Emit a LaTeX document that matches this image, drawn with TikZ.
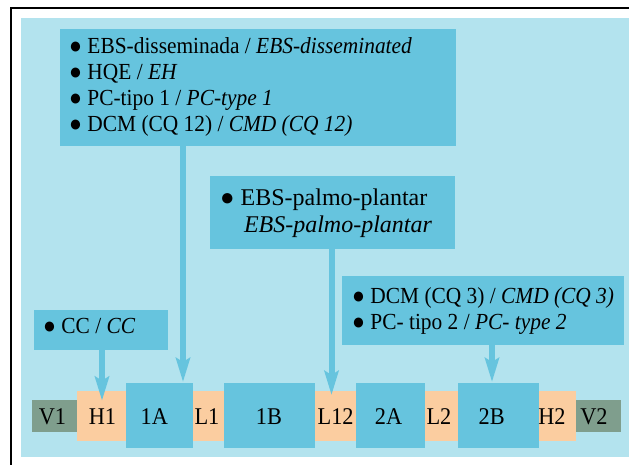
\documentclass[tikz,border=0pt]{standalone}
\usepackage{fontspec}
\setmainfont[FakeStretch=0.93]{Liberation Serif}
\newfontfamily\plainserif{Liberation Serif}
\usetikzlibrary{arrows.meta}
\definecolor{bgblue}{RGB}{179,227,238}
\definecolor{boxblue}{RGB}{102,196,222}
\definecolor{peach}{RGB}{251,205,160}
\definecolor{sage}{RGB}{127,158,141}
\begin{document}
\begin{tikzpicture}[x=1pt,y=-1pt,
  panel/.style={fill=boxblue, inner sep=0pt, outer sep=0pt, anchor=north west},
  segB/.style={fill=boxblue, inner sep=0pt, outer sep=0pt, anchor=north west},
  segO/.style={fill=peach, inner sep=0pt, outer sep=0pt, anchor=north west},
  segG/.style={fill=sage, inner sep=0pt, outer sep=0pt, anchor=north west},
  txt/.style={inner sep=0pt, anchor=base west, font=\fontsize{23}{26}\selectfont},
  bigtxt/.style={inner sep=0pt, anchor=base west, font=\plainserif\fontsize{24}{28}\selectfont},
  lab/.style={inner sep=0pt, anchor=base, font=\fontsize{24}{26}\selectfont},
  arr/.style={draw=boxblue, line width=6pt, -{Stealth[length=24pt,width=14pt,inset=4pt]}}
]
\useasboundingbox (0,0) rectangle (629,464);
\clip (0,0) rectangle (629,464);
\draw[line width=2pt] (11,7.7) rectangle (680,520);
\fill[bgblue] (21,17.5) rectangle (660,456.7);

% panels
\node[panel, minimum width=396pt, minimum height=117pt] (b1) at (60,29) {};
\node[panel, minimum width=244.5pt, minimum height=73pt] (b2) at (210,176) {};
\node[panel, minimum width=282pt, minimum height=69pt] (b3) at (342,276) {};
\node[panel, minimum width=134pt, minimum height=40pt] (b4) at (34,310) {};

% panel texts
\node[txt] (l11) at (69,53) {● EBS-disseminada / \textit{EBS-disseminated}};
\node[txt] (l12) at (69,79) {● HQE / \textit{EH}};
\node[txt] (l13) at (69,105) {● PC-tipo 1 / \textit{PC-type 1}};
\node[txt] (l14) at (69,131) {● DCM (CQ 12) / \textit{CMD (CQ 12)}};
\node[bigtxt] (l21) at (220,205.7) {● EBS-palmo-plantar};
\node[bigtxt] (l22) at (243.8,232.7) {\textit{EBS-palmo-plantar}};
\node[txt] (l31) at (352,303) {● DCM (CQ 3) / \textit{CMD (CQ 3)}};
\node[txt] (l32) at (352,329) {● PC- tipo 2 / \textit{PC- type 2}};
\node[txt] (l41) at (43,333.3) {● CC / \textit{CC}};

% bottom row
\node[segG, minimum width=45pt, minimum height=31.7pt] (V1) at (32,400) {};
\node[segO, minimum width=48.7pt, minimum height=49.7pt] (H1) at (77,391) {};
\node[segB, minimum width=67.3pt, minimum height=64.7pt] (A1) at (125.7,383) {};
\node[segO, minimum width=31pt, minimum height=49.7pt] (L1) at (193,391) {};
\node[segB, minimum width=91pt, minimum height=64.7pt] (B1) at (224,383) {};
\node[segO, minimum width=41pt, minimum height=49.7pt] (L12) at (315,391) {};
\node[segB, minimum width=68.5pt, minimum height=64.7pt] (A2) at (356,383) {};
\node[segO, minimum width=33.3pt, minimum height=49.7pt] (L2) at (424.5,391) {};
\node[segB, minimum width=80.8pt, minimum height=64.7pt] (B2) at (457.8,383) {};
\node[segO, minimum width=37.4pt, minimum height=50pt] (H2) at (538.6,391) {};
\node[segG, minimum width=44.5pt, minimum height=31.7pt] (V2) at (576,400) {};

\node[lab] (tV1) at (52.5,424.3) {V1};
\node[lab] (tH1) at (102.5,424.3) {H1};
\node[lab] (tA1) at (154.3,424.3) {1A};
\node[lab] (tL1) at (207,424.3) {L1};
\node[lab] (tB1) at (269,424.3) {1B};
\node[lab] (tL12) at (335.6,424.3) {L12};
\node[lab] (tA2) at (388.5,424.3) {2A};
\node[lab] (tL2) at (439,424.3) {L2};
\node[lab] (tB2) at (491.7,424.3) {2B};
\node[lab] (tH2) at (552,424.3) {H2};
\node[lab] (tV2) at (594,424.3) {V2};

% arrows
\coordinate (pH1) at (102,400.7);
\coordinate (pA1) at (183,382);
\coordinate (pL12) at (331.5,395);
\coordinate (pB2) at (492,382);
\draw[arr] (b4.south -| pH1) -- (pH1);
\draw[arr] (b1.south -| pA1) -- (pA1);
\draw[arr] (b2.south -| pL12) -- (pL12);
\draw[arr] (b3.south -| pB2) -- (pB2);
\end{tikzpicture}
\end{document}
